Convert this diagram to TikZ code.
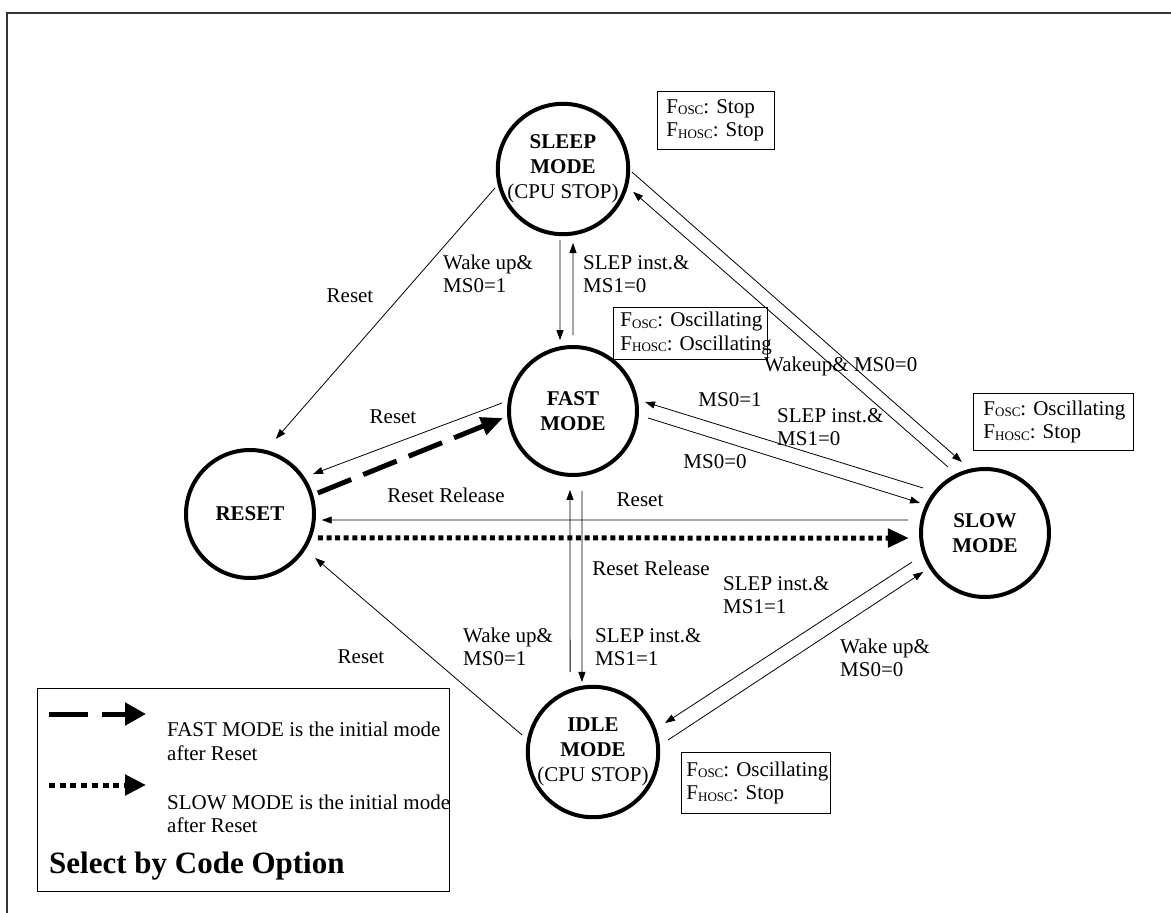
\documentclass[tikz,border=0pt]{standalone}
\usepackage{fontspec}
\setmainfont{Liberation Serif}
\usetikzlibrary{arrows.meta}
\frenchspacing

\newcommand{\fsub}[1]{\raisebox{-1.5pt}{\fontsize{13}{13}\selectfont #1}}
\newcommand{\clkline}[2]{\mbox{F\fsub{#1}: #2}}

\tikzset{
  modenode/.style={circle, draw, line width=4pt, minimum size=128, inner sep=0pt, align=center,
    font=\fontsize{21}{25}\selectfont\bfseries},
  clkbox/.style={draw, line width=0.9pt, inner ysep=0pt, align=left, anchor=north west,
    font=\fontsize{21}{23.5}\selectfont},
  lbl/.style={inner sep=0pt, font=\fontsize{21}{23.5}\selectfont},
  lbltwo/.style={lbl, align=left, anchor=west},
  trans/.style={line width=0.8pt, -{Triangle[length=10pt,width=7pt]}},
  fastinit/.style={line width=5pt, dash pattern=on 36pt off 13pt, -{Triangle[length=22pt,width=18pt]}},
  slowinit/.style={line width=5pt, dash pattern=on 5pt off 3.6pt, -{Triangle[length=21pt,width=18pt]}},
}

\begin{document}
\begin{tikzpicture}[x=1pt, y=1pt]
\useasboundingbox (0,0) rectangle (1171,-913);
% frame
\draw [line width=1.3pt, black!80] (1171,-13) -| (7,-913);

% Mode nodes
\node [modenode] (sleep) at (563,-169) {SLEEP\\MODE\\{\mdseries (CPU STOP)}};
\node [modenode] (fast) at (573,-411) {FAST\\MODE};
\node [modenode] (reset) at (250,-514) {RESET};
\node [modenode] (slow) at (985,-533) {SLOW\\MODE};
\node [modenode] (idle) at (593,-752) {IDLE\\MODE\\{\mdseries (CPU STOP)}};

% Clock boxes
\node [clkbox, inner xsep=9pt, text width=99pt, minimum height=58] (clksleep) at (657,-91) {\clkline{OSC}{Stop}\\\clkline{HOSC}{Stop}};
\node [clkbox, inner xsep=7pt, text width=140pt, minimum height=52] (clkfast) at (613,-307) {\clkline{OSC}{Oscillating}\\\clkline{HOSC}{Oscillating}};
\node [clkbox, inner xsep=10pt, text width=140pt, minimum height=57] (clkslow) at (973,-393) {\clkline{OSC}{Oscillating}\\\clkline{HOSC}{Stop}};
\node [clkbox, inner xsep=5pt, text width=139pt, minimum height=61] (clkidle) at (681,-752) {\clkline{OSC}{Oscillating}\\\clkline{HOSC}{Stop}};

% Transitions
\draw [trans] ([shift={(195.6:70.6)}]sleep.center) -- ([shift={(71:79.4)}]reset.center);
\draw [trans] ([shift={(267.6:71)}]sleep.center) -- ([shift={(100.4:72)}]fast.center);
\draw [trans] ([shift={(90:76)}]fast.center) -- ([shift={(277.7:74.7)}]sleep.center);
\draw [trans] ([shift={(-2.5:69)}]sleep.center) -- ([shift={(108:74.6)}]slow.center);
\draw [trans] ([shift={(119.3:75.7)}]slow.center) -- ([shift={(-18:73.7)}]sleep.center);
\draw [trans] ([shift={(173.6:71.5)}]fast.center) -- ([shift={(32.4:74.6)}]reset.center);
\draw [fastinit] ([shift={(17.2:71)}]reset.center) -- ([shift={(185.7:70.3)}]fast.center);
\draw [trans] ([shift={(170.4:78)}]slow.center) -- ([shift={(-4.8:72)}]reset.center);
\draw [slowinit] ([shift={(-19.4:72)}]reset.center) -- ([shift={(183.8:76.2)}]slow.center);
\draw [trans] ([shift={(144:76.6)}]slow.center) -- ([shift={(7.1:72.6)}]fast.center);
\draw [trans] ([shift={(-5.3:75.3)}]fast.center) -- ([shift={(155.2:71.6)}]slow.center);
\draw [trans] ([shift={(106:83)}]idle.center) -- ([shift={(267.8:79)}]fast.center);
\draw [trans] ([shift={(276.4:80.5)}]fast.center) -- ([shift={(99:70.9)}]idle.center);
\draw [trans] ([shift={(201.7:78.5)}]slow.center) -- ([shift={(21.9:77.6)}]idle.center);
\draw [trans] ([shift={(9.1:76)}]idle.center) -- ([shift={(212.2:73)}]slow.center);
\draw [trans] ([shift={(166.5:73)}]idle.center) -- ([shift={(-34:78.5)}]reset.center);

% Transition labels
\node [lbl] (rsta) at (350,-296) {Reset};
\node [lbltwo] (wakea) at (443,-274) {Wake up\&\\MS0=1};
\node [lbltwo] (slepa) at (583,-274) {SLEP inst.\&\\MS1=0};
\node [lbl, anchor=west] (wakeb) at (764,-366) {Wakeup\& MS0=0};
\node [lbl] (rstb) at (393,-417) {Reset};
\node [lbl] (rela) at (446,-495) {Reset Release};
\node [lbl] (rstc) at (640,-500) {Reset};
\node [lbl] (msa) at (730,-400) {MS0=1};
\node [lbltwo] (slepb) at (777,-427) {SLEP inst.\&\\MS1=0};
\node [lbl] (msb) at (715,-462) {MS0=0};
\node [lbl] (relb) at (651,-568) {Reset Release};
\node [lbltwo] (slepc) at (723,-595) {SLEP inst.\&\\MS1=1};
\node [lbltwo] (wakec) at (463,-647) {Wake up\&\\MS0=1};
\node [lbltwo] (slepd) at (595,-647) {SLEP inst.\&\\MS1=1};
\node [lbltwo] (waked) at (840,-658) {Wake up\&\\MS0=0};
\node [lbl] (rstd) at (361,-657) {Reset};

% Legend
\node [draw, line width=0.9pt, minimum width=412, minimum height=203, inner sep=0pt, anchor=north west] (legend) at (37,-688) {};
\coordinate (fasta) at ([shift={(12,-26)}]legend.north west);
\coordinate (fastb) at ([shift={(109,-26)}]legend.north west);
\coordinate (slowa) at ([shift={(12,-97)}]legend.north west);
\coordinate (slowb) at ([shift={(109,-97)}]legend.north west);
\draw [line width=5pt, dash pattern=on 39pt off 14pt, -{Triangle[length=21pt,width=22pt]}] (fasta) -- (fastb);
\draw [line width=5pt, dash pattern=on 6pt off 4.7pt, -{Triangle[length=21pt,width=20pt]}] (slowa) -- (slowb);
\node [lbl, align=left, anchor=west, font=\fontsize{21}{24}\selectfont] (fastnote) at (167,-741) {FAST MODE is the initial mode\\after Reset};
\node [lbl, align=left, anchor=west, font=\fontsize{21}{23}\selectfont] (slownote) at (167,-814) {SLOW MODE is the initial mode\\after Reset};
\node [inner sep=0pt, anchor=base west, font=\fontsize{31}{31}\selectfont\bfseries] (legtitle) at (49,-873) {Select by Code Option};
\end{tikzpicture}
\end{document}
